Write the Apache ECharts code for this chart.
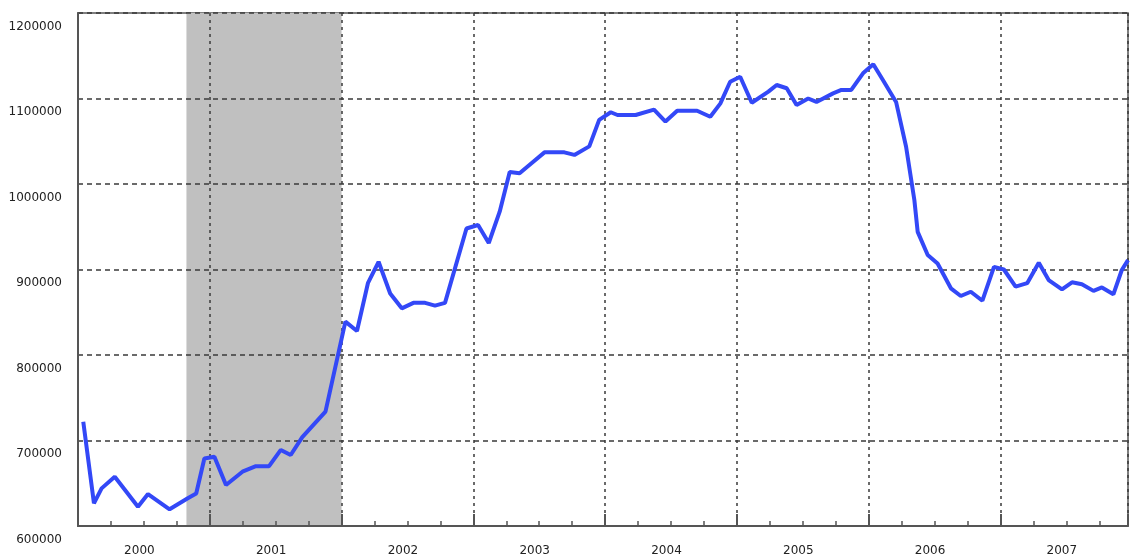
<!DOCTYPE html>
<html>
<head>
<meta charset="utf-8">
<script src="https://cdn.jsdelivr.net/npm/echarts@6/dist/echarts.min.js"></script>
<style>html,body{margin:0;padding:0;background:#fff;}#c{width:1131px;height:559px;}</style>
</head>
<body>
<div id="c"></div>
<script>
// Decimal years of the line's vertices
var dates = [2000.040,2000.121,2000.179,2000.279,2000.455,2000.531,2000.695,2000.833,2000.897,2000.959,
  2001.035,2001.123,2001.248,2001.350,2001.450,2001.539,2001.614,2001.702,2001.878,2002.029,
  2002.117,2002.200,2002.281,2002.369,2002.457,2002.545,2002.634,2002.709,2002.785,2002.948,
  2003.036,2003.117,2003.200,2003.276,2003.351,2003.439,2003.540,2003.691,2003.767,2003.880,
  2003.955,2004.043,2004.094,2004.232,2004.371,2004.458,2004.547,2004.698,2004.798,2004.874,
  2004.949,2005.025,2005.113,2005.239,2005.302,2005.378,2005.453,2005.541,2005.604,2005.730,
  2005.793,2005.868,2005.957,2006.035,2006.108,2006.208,2006.284,2006.347,2006.372,2006.448,
  2006.523,2006.624,2006.699,2006.775,2006.863,2006.951,2007.026,2007.115,2007.203,2007.291,
  2007.366,2007.467,2007.543,2007.618,2007.706,2007.770,2007.857,2007.921,2007.968];
var values = [722000,626500,644000,657700,622600,637400,619500,632400,638000,679000,
  681000,648000,663500,670000,670000,689000,683000,704000,733700,839000,
  828000,884000,909000,872000,854600,861000,861000,857700,861000,948000,
  952000,931000,967600,1014000,1012500,1024000,1037000,1037000,1034000,1044000,
  1075000,1083900,1080700,1080700,1087000,1073000,1085700,1085700,1078700,1094000,
  1119600,1125500,1095000,1108000,1115800,1112000,1092400,1100000,1096000,1106000,
  1110000,1110000,1129500,1140000,1121600,1096000,1043600,981000,944000,917000,
  907000,878000,869000,874000,863500,903000,900000,880000,884000,908000,
  887700,876800,885000,882700,875000,879000,871000,899400,911000];
var shadeStart = 2000.823, shadeEnd = 2002.0;
var yTicks = [600000,700000,800000,900000,1000000,1100000,1200000];
var years = [2000,2001,2002,2003,2004,2005,2006,2007];

var lineData = dates.map(function(d,i){return [d, values[i]];});
var xMin = years[0], xMax = 2007.968;
var font = 'DejaVu Sans';
var axisCol = '#555';
var gridCol = '#3a3a3a';

var chart = echarts.init(document.getElementById('c'), null, {renderer:'canvas'});
chart.setOption({
  animation:false,
  backgroundColor:'#fff',
  grid:{left:78, top:13, right:-2, bottom:33, show:true, borderColor:axisCol, borderWidth:1.5, backgroundColor:'transparent'},
  xAxis:[
    {type:'value', min:xMin, max:xMax, interval:1, position:'bottom', z:2,
     axisLine:{show:true, lineStyle:{color:axisCol, width:2}},
     axisTick:{show:true, inside:true, length:12, lineStyle:{color:axisCol, width:2}},
     axisLabel:{show:false},
     splitLine:{show:true, lineStyle:{color:gridCol, width:1.5, type:[3,4]}}},
    {type:'value', min:xMin, max:xMax, interval:0.25, position:'bottom', z:2,
     axisLine:{show:false},
     axisTick:{show:true, inside:true, length:5, lineStyle:{color:axisCol, width:1.5}},
     axisLabel:{show:false}, splitLine:{show:false}},
    {type:'value', min:xMin, max:xMax, interval:0.5, position:'bottom', z:2,
     axisLine:{show:false}, axisTick:{show:false}, splitLine:{show:false},
     axisLabel:{show:true, margin:19, color:'#222', fontFamily:font, fontSize:12,
       padding:[0,9,0,0],
       formatter:function(v){var f=v-Math.floor(v); return Math.abs(f-0.5)<1e-6 ? String(Math.floor(v)) : '';}}}
  ],
  yAxis:{type:'value', min:yTicks[0], max:yTicks[yTicks.length-1], interval:100000, z:2,
    axisLine:{show:true, lineStyle:{color:axisCol, width:2}},
    axisTick:{show:false},
    axisLabel:{show:true, margin:16, color:'#222', fontFamily:font, fontSize:12,
      verticalAlign:'top', lineHeight:27,
      formatter:function(v){return String(v);}},
    splitLine:{show:true, lineStyle:{color:gridCol, width:1.5, type:[5,4]}}},
  series:[
    {type:'line', xAxisIndex:0, data:[], z:1, silent:true,
     markArea:{silent:true, z:1, itemStyle:{color:'#c0c0c0', opacity:1},
       data:[[{xAxis:shadeStart},{xAxis:shadeEnd}]]}},
    {type:'line', xAxisIndex:0, data:lineData, showSymbol:false, symbol:'none',
     lineStyle:{color:'#3348f7', width:4}, z:3}
  ]
});
</script>
</body>
</html>
